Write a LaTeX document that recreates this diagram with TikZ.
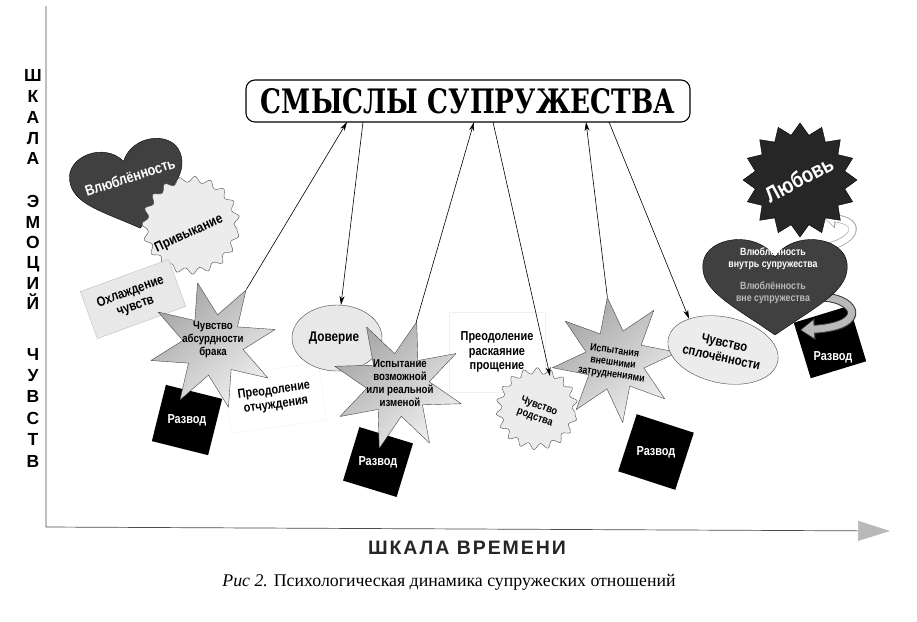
\documentclass[tikz,border=0pt]{standalone}
\usepackage{graphicx}
\usepackage{fontspec}
\setmainfont{Liberation Serif}
\newfontfamily\diagfont[FakeStretch=0.84]{Liberation Sans}
\newfontfamily\axisfont{Liberation Sans}
\newfontfamily\spacedfont[LetterSpace=10]{Liberation Sans}
\newfontfamily\titlefont{DejaVu Serif}
\usetikzlibrary{shapes.geometric,arrows.meta,decorations.pathmorphing}
\tikzset{
  heart/.pic={
    \path[pic actions] (0,0.8) .. controls (-0.6,0.3) and (-1.05,0.05) .. (-1,-0.4)
      .. controls (-0.95,-0.85) and (-0.25,-0.95) .. (0,-0.5)
      .. controls (0.25,-0.95) and (0.95,-0.85) .. (1,-0.4)
      .. controls (1.05,0.05) and (0.6,0.3) .. (0,0.8) -- cycle;
  }
}
\begin{document}
\begin{tikzpicture}[x=1pt,y=-1pt,line join=round,
  >={Stealth[length=9pt,width=5pt]},
  fs/.style={font=\diagfont\bfseries\fontsize{#1pt}{1.12\dimexpr #1pt\relax}\selectfont},
  txt/.style={align=center,inner sep=0pt},
  burst/.style={star,star points=8,star point ratio=2.1,draw=gray!55!black,
    top color=gray!70,bottom color=gray!12,shading angle=40,inner sep=0pt},
  seal/.style={circle,draw=gray!60!black,fill=gray!15,inner sep=0pt,
    decorate,decoration={snake,segment length=15pt,amplitude=3pt}},
  divorce/.style={fill=black,minimum size=58pt,inner sep=0pt},
  card/.style={draw=gray!12,fill=white,inner sep=0pt},
  link/.style={->,line width=0.6pt}]
\fill[white] (0,0) rectangle (917,621);
\useasboundingbox (0,0) rectangle (917,621);

% axes
\coordinate (ytop) at (46,6);
\coordinate (o) at (46,527);
\coordinate (xend) at (890,531);
\draw[gray!60!black,line width=0.7pt,-{Triangle[length=32pt,width=20pt,color=gray!55,fill=gray!55]}] (ytop) -- (o) -- (xend);
\foreach \ch/\yy in {Ш/75,К/96,А/117,Л/138,А/158,Э/201,М/222,О/242,Ц/262,И/283,Й/303,Ч/354,У/375,В/396,С/418,Т/439,В/461}
  \node[font=\axisfont\bfseries\fontsize{17.5pt}{17.5pt}\selectfont,anchor=base,inner sep=0pt] (emo-\yy) at (33,\yy+6) {\ch};
\node[font=\spacedfont\bfseries\fontsize{19.5pt}{21pt}\selectfont,text=black!85] (timeline) at (467,548) {ШКАЛА ВРЕМЕНИ};
\node[font=\fontsize{17.8pt}{20pt}\selectfont] (caption) at (449,582) {\textit{Рис 2.} Психологическая динамика супружеских отношений};

% title
\node[draw,line width=1.1pt,rounded corners=9pt,minimum width=444pt,minimum height=42pt,inner sep=0pt] (title) at (468,101)
  {\resizebox{414pt}{25pt}{\titlefont\bfseries СМЫСЛЫ СУПРУЖЕСТВА}};
\coordinate (t1) at (347,122);
\coordinate (t2) at (363,122);
\coordinate (t3) at (474,122);
\coordinate (t4) at (493,122);
\coordinate (t5) at (586,122);
\coordinate (t6) at (609,122);

% cards
\node[card,rotate=8,minimum width=96pt,minimum height=58pt] (thaw) at (275,398) {};
\node[card,minimum width=96pt,minimum height=80pt] (repent) at (497,352) {};
\node[txt,fs=13,rotate=8] (thaw-txt) at (thaw) {Преодоление\\отчуждения};
\node[txt,fs=13] (repent-txt) at (repent) {Преодоление\\раскаяние\\прощение};

% left group
\pic[fill=black!75,draw=black,rotate=14,xscale=57,yscale=53] at (130,187) {heart};
\node[txt,fs=15,white,rotate=18] (inlove) at (130,177) {Влюблённость};
\node[seal,minimum size=92pt] (habit) at (191,229) {};
\node[txt,fs=14,rotate=25] (habit-txt) at (189,234) {Привыкание};
\node[draw=gray!50,fill=gray!18,rotate=20,minimum width=94pt,minimum height=50pt] (cool) at (133,299) {};
\node[txt,fs=13.5,rotate=20] (cool-txt) at (cool) {Охлаждение\\чувств};
\node[divorce,rotate=-14] (div1) at (187,420) {};
\node[txt,fs=13,white] (div1-txt) at (div1) {Развод};
\node[burst,shape border rotate=14,minimum size=128pt] (absurd) at (213,345) {};
\node[txt,fs=11.5] (absurd-txt) at (213,340) {Чувство\\абсурдности\\брака};

% middle group
\node[ellipse,draw=gray!55!black,fill=gray!18,minimum width=90pt,minimum height=66pt,inner sep=0pt] (trust) at (337,338) {};
\node[txt,fs=14] (trust-txt) at (334,338) {Доверие};
\node[divorce,minimum size=56pt,rotate=-17] (div2) at (378,462) {};
\node[txt,fs=13,white] (div2-txt) at (div2) {Развод};
\node[burst,shape border rotate=-16.5,minimum size=132pt] (ordeal) at (398,385) {};
\node[txt,fs=11.5] (ordeal-txt) at (400,383) {Испытание\\возможной\\или реальной\\изменой};
\node[seal,minimum size=76pt,decoration={snake,segment length=13pt,amplitude=3pt}] (kin) at (537,412) {};
\node[txt,fs=11,rotate=-20] (kin-txt) at (kin) {Чувство\\родства};
\node[divorce,minimum size=60pt,rotate=-18] (div3) at (656,452) {};
\node[txt,fs=13,white] (div3-txt) at (div3) {Развод};
\node[burst,shape border rotate=7,minimum size=126pt] (hardship) at (615,360) {};
\node[txt,fs=10.5,rotate=-8] (hardship-txt) at (613,363) {Испытания\\внешними\\затруднениями};
\node[ellipse,draw=gray!55!black,fill=gray!15,rotate=-12,minimum width=100pt,minimum height=66pt,inner sep=0pt,txt,fs=13.5] (unity) at (723,350) {Чувство\\сплочённости};

% right group
\node[divorce,rotate=17] (div4) at (830,342) {};
\node[txt,fs=13,white] (div4-txt) at (833,357) {Развод};
\coordinate (hin) at (812,249);
\coordinate (lovein) at (823,217);
\coordinate (hout) at (815,297);
\coordinate (divin) at (800,330);
\draw[line width=8pt,gray!70,-{Triangle[length=13pt,width=19pt]}] (hin) .. controls (852,247) and (868,222) .. (lovein);
\draw[line width=6.4pt,white,shorten >=1.2pt,-{Triangle[length=10.5pt,width=15.5pt]}] (hin) .. controls (852,247) and (868,222) .. (lovein);
\draw[line width=9pt,gray!45!black,-{Triangle[length=15pt,width=21pt]}] (hout) .. controls (856,295) and (872,326) .. (divin);
\draw[line width=7pt,gray!55,shorten >=1.3pt,-{Triangle[length=12.5pt,width=17pt]}] (hout) .. controls (856,295) and (872,326) .. (divin);
\pic[fill=black!75,draw=black,xscale=72,yscale=60] at (775,287) {heart};
\node[txt,fs=10.5,white] (inner-txt) at (773,259) {Влюблённость\\внутрь супружества};
\node[txt,fs=10.5,gray!55] (outer-txt) at (773,293) {Влюблённость\\вне супружества};
\node[star,star points=16,star point ratio=1.25,minimum size=114pt,fill=black!85,draw=black,inner sep=0pt] (love) at (800,180) {};
\node[txt,fs=22,white,rotate=28] (love-txt) at (799,179) {Любовь};

% links
\draw[link] (absurd) -- (t1);
\draw[link] (t2) -- (trust);
\draw[link] (ordeal) -- (t3);
\draw[link] (t4) -- (kin.70);
\draw[link] (hardship) -- (t5);
\draw[link] (t6) -- (unity.north west);
\end{tikzpicture}
\end{document}
